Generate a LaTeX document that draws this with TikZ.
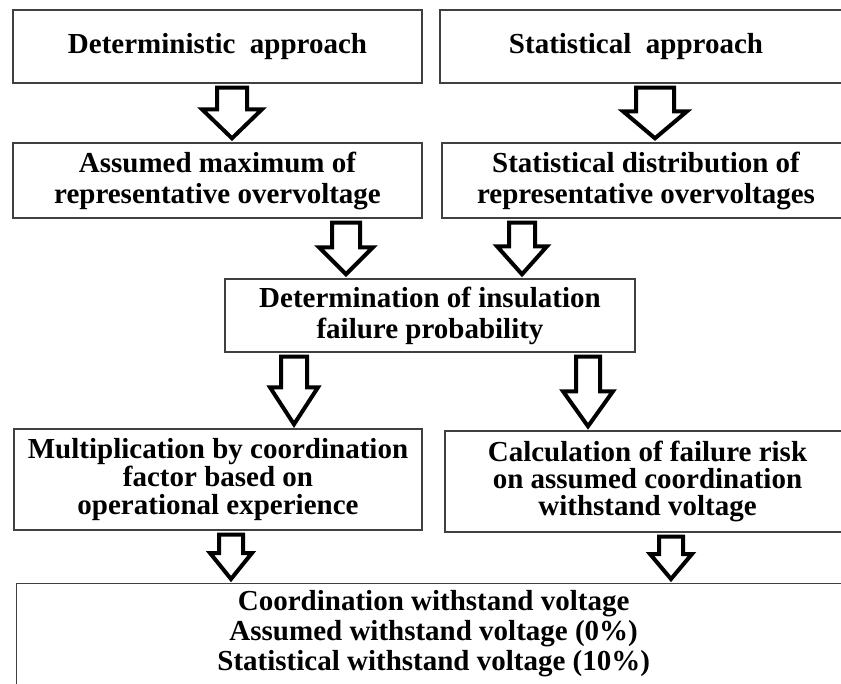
\documentclass[tikz,border=0pt]{standalone}
\usepackage{fontspec}
\setmainfont{Liberation Serif}
\usetikzlibrary{calc}
\tikzset{
  box/.style={draw=black!75, line width=1.4pt, align=center, inner sep=0pt,
    font=\fontsize{29}{31}\selectfont\bfseries},
  fatarrow/.style={draw=black, fill=white, line width=4pt, line join=miter}
}
\newcommand\fatarrow[6]{%
  \draw[fatarrow] let \p1=(#5.south), \p2=(#6.north) in
    (#1pt-#2pt,\y1-4pt) -- (#1pt-#2pt,\y2+4pt+#4pt) -- (#1pt-#3pt,\y2+4pt+#4pt)
    -- (#1pt,\y2+4pt) -- (#1pt+#3pt,\y2+4pt+#4pt) -- (#1pt+#2pt,\y2+4pt+#4pt)
    -- (#1pt+#2pt,\y1-4pt) -- cycle;}
\begin{document}
\begin{tikzpicture}[x=1pt,y=-1pt]
\useasboundingbox (0,0) rectangle (841,684);
\clip (0,0) rectangle (841,684);
\node[box, minimum width=409pt, minimum height=73pt] (det) at (217.5,46.5) {Deterministic\ \ approach};
\node[box, minimum width=410pt, minimum height=73pt] (stat) at (645,46.5) {Statistical\ \ approach\hspace*{18pt}};
\node[box, minimum width=409pt, minimum height=75pt] (amax) at (217.5,180.5) {Assumed maximum of\\representative overvoltage};
\node[box, minimum width=408pt, minimum height=75pt] (sdist) at (646,180.5) {Statistical distribution of\\representative overvoltages};
\node[box, minimum width=410pt, minimum height=73pt] (fprob) at (430,315.5) {Determination of insulation\\failure probability};
\node[box, minimum width=408pt, minimum height=101pt, font=\fontsize{29}{28}\selectfont\bfseries] (mult) at (218,479.5) {Multiplication by coordination\\factor based on\\operational experience};
\node[box, minimum width=405pt, minimum height=101pt, font=\fontsize{29}{27}\selectfont\bfseries] (risk) at (647.5,481.5) {Calculation of failure risk\\on assumed coordination\\withstand voltage};
\node[box, anchor=north west, minimum width=834pt, inner ysep=7pt, text height=80pt, text depth=30pt, font=\fontsize{29}{30}\selectfont\bfseries] (cwv) at (16,583) {Coordination withstand voltage\\Assumed withstand voltage (0\%)\\Statistical withstand voltage (10\%)};
\foreach \ax/\sw/\hw/\hlen/\src/\dst in {232/15/30/29/det/amax, 655/19/32/27/stat/sdist,
    346/14/27/27/amax/fprob, 522/13/25/28/sdist/fprob, 294/13/24/37/fprob/mult,
    588/12/25/35/fprob/risk, 231/12/21/26/mult/cwv, 671/12/21/25/risk/cwv}
  \fatarrow{\ax}{\sw}{\hw}{\hlen}{\src}{\dst};
\end{tikzpicture}
\end{document}
